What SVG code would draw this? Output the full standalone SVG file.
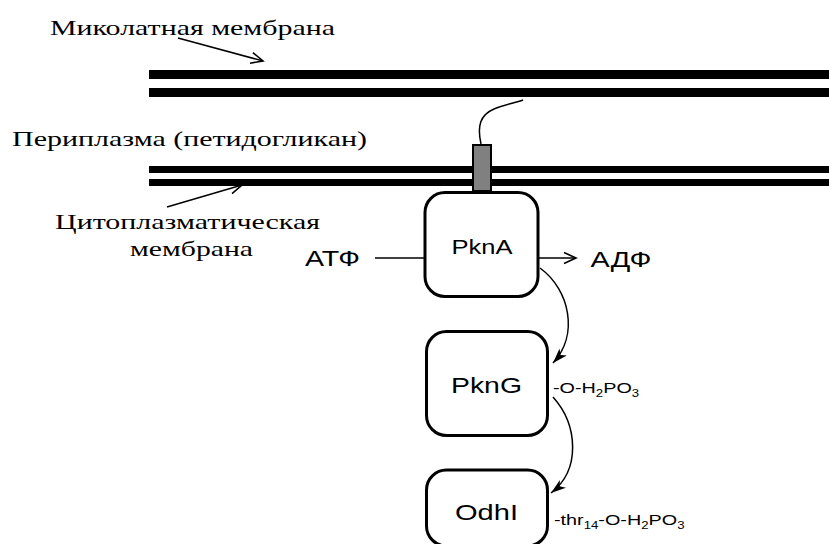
<svg xmlns="http://www.w3.org/2000/svg" width="829" height="544" viewBox="0 0 829 544">
  <defs>
    <marker id="open" markerUnits="userSpaceOnUse" markerWidth="16" markerHeight="14" viewBox="0 0 16 14" refX="14" refY="7" orient="auto">
      <path d="M2 1.5 L14 7 L2 12.5" fill="none" stroke="#000" stroke-width="1.6"/>
    </marker>
    <marker id="solid" markerUnits="userSpaceOnUse" markerWidth="16" markerHeight="12" viewBox="0 0 16 12" refX="15" refY="6" orient="auto">
      <path d="M0 1 L15 6 L0 11 L4 6 Z" fill="#000"/>
    </marker>
    <style>
      .serif { font-family: "Liberation Serif", "Times New Roman", serif; font-size: 22px; fill: #000; }
      .sans { font-family: "Liberation Sans", Arial, sans-serif; fill: #000; }
      .box { fill: #fff; stroke: #000; stroke-width: 3; }
      .mem { fill: #000; }
      .thin { fill: none; stroke: #000; stroke-width: 1.5; }
    </style>
  </defs>

  <!-- membranes -->
  <g id="mycolate-membrane">
    <rect class="mem" x="149" y="70" width="680" height="9"/>
    <rect class="mem" x="149" y="88" width="680" height="9"/>
  </g>
  <g id="cytoplasmic-membrane">
    <rect class="mem" x="149" y="166" width="680" height="7"/>
    <rect class="mem" x="149" y="179" width="680" height="7"/>
  </g>

  <!-- labels -->
  <g id="labels">
    <text class="serif" x="50" y="35" textLength="285" lengthAdjust="spacingAndGlyphs">Миколатная мембрана</text>
    <text class="serif" x="12" y="145.5" textLength="355" lengthAdjust="spacingAndGlyphs">Периплазма (петидогликан)</text>
    <text class="serif" x="55" y="229" textLength="265" lengthAdjust="spacingAndGlyphs">Цитоплазматическая</text>
    <text class="serif" x="130" y="256" textLength="123" lengthAdjust="spacingAndGlyphs">мембрана</text>
    <text class="sans" x="305" y="266" font-size="22" textLength="55" lengthAdjust="spacingAndGlyphs">АТФ</text>
    <text class="sans" x="590.5" y="266.5" font-size="22" textLength="61" lengthAdjust="spacingAndGlyphs">АДФ</text>
    <text class="sans" transform="translate(553 392.5) scale(1.32 1)" font-size="15">-O-H<tspan font-size="10" dy="4">2</tspan><tspan dy="-4">PO</tspan><tspan font-size="10" dy="4">3</tspan></text>
    <text class="sans" transform="translate(554 525) scale(1.32 1)" font-size="15">-thr<tspan font-size="10" dy="4">14</tspan><tspan dy="-4">-O-H</tspan><tspan font-size="10" dy="4">2</tspan><tspan dy="-4">PO</tspan><tspan font-size="10" dy="4">3</tspan></text>
  </g>

  <!-- connectors -->
  <g id="connectors">
    <line class="thin" x1="178" y1="38" x2="263" y2="61" marker-end="url(#open)"/>
    <line class="thin" x1="167" y1="207" x2="242" y2="185" marker-end="url(#open)"/>
    <line class="thin" x1="375" y1="258" x2="425" y2="258"/>
    <line class="thin" x1="539" y1="258" x2="576" y2="258" marker-end="url(#open)"/>
    <path class="thin" d="M540 268 C570 290 579 335 553 363" marker-end="url(#solid)"/>
    <path class="thin" d="M553 397 C578 425 581 470 551 493" marker-end="url(#solid)"/>
  </g>

  <!-- PknA anchor crossing the membrane -->
  <g id="anchor">
    <path d="M481 144 C477 126 480 115 494 109 C504 105 514 103 523 100" fill="none" stroke="#000" stroke-width="1.5"/>
    <rect x="473" y="145" width="18" height="46" fill="#808080" stroke="#000" stroke-width="2"/>
  </g>

  <g id="PknA">
    <rect class="box" x="425" y="192.5" width="113" height="104" rx="20"/>
    <text class="sans" x="451.5" y="253.5" font-size="21" textLength="61" lengthAdjust="spacingAndGlyphs">PknA</text>
  </g>
  <g id="PknG">
    <rect class="box" x="426.5" y="331.5" width="121" height="104" rx="20"/>
    <text class="sans" x="451" y="393" font-size="22" textLength="71" lengthAdjust="spacingAndGlyphs">PknG</text>
  </g>
  <g id="OdhI">
    <rect class="box" x="426.5" y="470" width="121" height="76" rx="20"/>
    <text class="sans" x="455" y="520" font-size="22" textLength="63" lengthAdjust="spacingAndGlyphs">OdhI</text>
  </g>
</svg>
